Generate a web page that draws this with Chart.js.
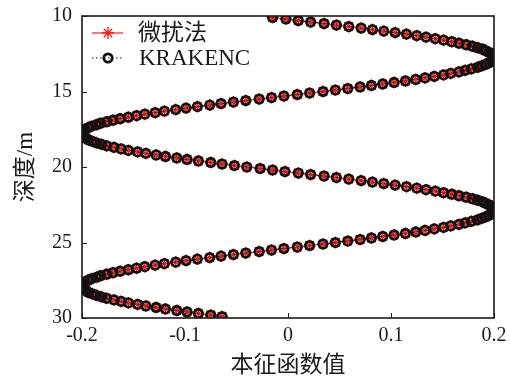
<!DOCTYPE html>
<html>
<head>
<meta charset="utf-8">
<script src="https://cdn.jsdelivr.net/npm/chart.js@4.4.0/dist/chart.umd.min.js"></script>
<style>
  html, body { margin: 0; padding: 0; background: #fffffd; }
  canvas { display: block; }
</style>
</head>
<body>
<canvas id="c" width="510" height="381"></canvas>
<script>
// Depth samples (m), 0.1 m apart
const depths = [
  10.1,10.2,10.3,10.4,10.5,10.6,10.7,10.8,10.9,11.0,
  11.1,11.2,11.3,11.4,11.5,11.6,11.7,11.8,11.9,12.0,
  12.1,12.2,12.3,12.4,12.5,12.6,12.7,12.8,12.9,13.0,
  13.1,13.2,13.3,13.4,13.5,13.6,13.7,13.8,13.9,14.0,
  14.1,14.2,14.3,14.4,14.5,14.6,14.7,14.8,14.9,15.0,
  15.1,15.2,15.3,15.4,15.5,15.6,15.7,15.8,15.9,16.0,
  16.1,16.2,16.3,16.4,16.5,16.6,16.7,16.8,16.9,17.0,
  17.1,17.2,17.3,17.4,17.5,17.6,17.7,17.8,17.9,18.0,
  18.1,18.2,18.3,18.4,18.5,18.6,18.7,18.8,18.9,19.0,
  19.1,19.2,19.3,19.4,19.5,19.6,19.7,19.8,19.9,20.0,
  20.1,20.2,20.3,20.4,20.5,20.6,20.7,20.8,20.9,21.0,
  21.1,21.2,21.3,21.4,21.5,21.6,21.7,21.8,21.9,22.0,
  22.1,22.2,22.3,22.4,22.5,22.6,22.7,22.8,22.9,23.0,
  23.1,23.2,23.3,23.4,23.5,23.6,23.7,23.8,23.9,24.0,
  24.1,24.2,24.3,24.4,24.5,24.6,24.7,24.8,24.9,25.0,
  25.1,25.2,25.3,25.4,25.5,25.6,25.7,25.8,25.9,26.0,
  26.1,26.2,26.3,26.4,26.5,26.6,26.7,26.8,26.9,27.0,
  27.1,27.2,27.3,27.4,27.5,27.6,27.7,27.8,27.9,28.0,
  28.1,28.2,28.3,28.4,28.5,28.6,28.7,28.8,28.9,29.0,
  29.1,29.2,29.3,29.4,29.5,29.6,29.7,29.8,29.9
];

// Eigenfunction values from the perturbation method
const perturbationValues = [
  -0.015,-0.002,0.010,0.022,0.035,0.047,0.059,0.071,0.082,0.093,
  0.104,0.115,0.125,0.134,0.143,0.151,0.159,0.166,0.173,0.179,
  0.184,0.189,0.192,0.195,0.198,0.199,0.200,0.200,0.199,0.198,
  0.195,0.192,0.188,0.184,0.178,0.172,0.166,0.158,0.151,0.142,
  0.133,0.124,0.114,0.103,0.092,0.081,0.070,0.058,0.046,0.034,
  0.021,0.009,-0.004,-0.016,-0.028,-0.041,-0.053,-0.065,-0.076,-0.088,
  -0.099,-0.109,-0.120,-0.129,-0.139,-0.147,-0.155,-0.163,-0.170,-0.176,
  -0.182,-0.186,-0.191,-0.194,-0.197,-0.199,-0.200,-0.200,-0.200,-0.198,
  -0.196,-0.194,-0.190,-0.186,-0.181,-0.176,-0.169,-0.162,-0.155,-0.146,
  -0.138,-0.128,-0.119,-0.108,-0.098,-0.087,-0.075,-0.064,-0.052,-0.040,
  -0.027,-0.015,-0.003,0.010,0.022,0.035,0.047,0.059,0.071,0.082,
  0.093,0.104,0.115,0.125,0.134,0.143,0.151,0.159,0.166,0.173,
  0.179,0.184,0.189,0.192,0.195,0.198,0.199,0.200,0.200,0.199,
  0.198,0.195,0.192,0.188,0.184,0.178,0.172,0.166,0.158,0.151,
  0.142,0.133,0.124,0.114,0.103,0.092,0.081,0.070,0.058,0.046,
  0.034,0.021,0.009,-0.004,-0.016,-0.028,-0.041,-0.053,-0.065,-0.076,
  -0.088,-0.099,-0.109,-0.120,-0.129,-0.139,-0.147,-0.155,-0.163,-0.170,
  -0.176,-0.182,-0.186,-0.191,-0.194,-0.197,-0.199,-0.200,-0.200,-0.200,
  -0.198,-0.196,-0.194,-0.190,-0.186,-0.181,-0.176,-0.169,-0.162,-0.155,
  -0.146,-0.138,-0.128,-0.119,-0.108,-0.098,-0.087,-0.075,-0.064
];

// Eigenfunction values from KRAKENC
const krakencValues = [
  -0.015,-0.002,0.010,0.022,0.035,0.047,0.059,0.071,0.082,0.093,
  0.104,0.115,0.125,0.134,0.143,0.151,0.159,0.166,0.173,0.179,
  0.184,0.189,0.192,0.195,0.198,0.199,0.200,0.200,0.199,0.198,
  0.195,0.192,0.188,0.184,0.178,0.172,0.166,0.158,0.151,0.142,
  0.133,0.124,0.114,0.103,0.092,0.081,0.070,0.058,0.046,0.034,
  0.021,0.009,-0.004,-0.016,-0.028,-0.041,-0.053,-0.065,-0.076,-0.088,
  -0.099,-0.109,-0.120,-0.129,-0.139,-0.147,-0.155,-0.163,-0.170,-0.176,
  -0.182,-0.186,-0.191,-0.194,-0.197,-0.199,-0.200,-0.200,-0.200,-0.198,
  -0.196,-0.194,-0.190,-0.186,-0.181,-0.176,-0.169,-0.162,-0.155,-0.146,
  -0.138,-0.128,-0.119,-0.108,-0.098,-0.087,-0.075,-0.064,-0.052,-0.040,
  -0.027,-0.015,-0.003,0.010,0.022,0.035,0.047,0.059,0.071,0.082,
  0.093,0.104,0.115,0.125,0.134,0.143,0.151,0.159,0.166,0.173,
  0.179,0.184,0.189,0.192,0.195,0.198,0.199,0.200,0.200,0.199,
  0.198,0.195,0.192,0.188,0.184,0.178,0.172,0.166,0.158,0.151,
  0.142,0.133,0.124,0.114,0.103,0.092,0.081,0.070,0.058,0.046,
  0.034,0.021,0.009,-0.004,-0.016,-0.028,-0.041,-0.053,-0.065,-0.076,
  -0.088,-0.099,-0.109,-0.120,-0.129,-0.139,-0.147,-0.155,-0.163,-0.170,
  -0.176,-0.182,-0.186,-0.191,-0.194,-0.197,-0.199,-0.200,-0.200,-0.200,
  -0.198,-0.196,-0.194,-0.190,-0.186,-0.181,-0.176,-0.169,-0.162,-0.155,
  -0.146,-0.138,-0.128,-0.119,-0.108,-0.098,-0.087,-0.075,-0.064
];

const seriesNames = ['微扰法', 'KRAKENC'];
const xTickValues = [-0.2, -0.1, 0, 0.1, 0.2];
const yTickValues = [10, 15, 20, 25, 30];
const xTitle = '本征函数值';
const yTitle = '深度/m';

const FONT = '"Liberation Serif", "Times New Roman", "Noto Sans CJK SC", serif';
const INK = '#1a1a1a';
const RED = '#f01c1c';

const toPoints = vals => vals.map((v, i) => ({ x: v, y: depths[i] }));

const pertStyle = { pointStyle: 'star', radius: 6, borderWidth: 1.3, color: RED };
const krakStyle = { pointStyle: 'circle', radius: 4.2, borderWidth: 2.8, color: '#111111' };

function marker(ctx, st, x, y) {
  ctx.save();
  ctx.strokeStyle = st.color;
  ctx.fillStyle = 'rgba(0,0,0,0)';
  ctx.lineWidth = st.borderWidth;
  Chart.helpers.drawPoint(ctx, { pointStyle: st.pointStyle, radius: st.radius, rotation: 0, borderWidth: st.borderWidth }, x, y);
  ctx.restore();
}

// Box frame, inward tick marks and the line+marker legend
const decorations = {
  id: 'decorations',
  afterDraw(chart) {
    const { ctx, chartArea: a, scales: { x, y } } = chart;
    ctx.save();
    ctx.strokeStyle = INK;
    ctx.lineWidth = 1;
    ctx.beginPath();
    x.ticks.forEach(t => {
      const p = Math.round(x.getPixelForValue(t.value)) + 0.5;
      ctx.moveTo(p, a.bottom); ctx.lineTo(p, a.bottom - 5);
    });
    y.ticks.forEach(t => {
      const p = Math.round(y.getPixelForValue(t.value)) + 0.5;
      ctx.moveTo(a.left, p); ctx.lineTo(a.left + 5, p);
    });
    ctx.stroke();
    ctx.lineWidth = 1.6;
    ctx.strokeRect(a.left, a.top, a.right - a.left, a.bottom - a.top);

    // legend
    const lx0 = a.left + 10, lx1 = a.left + 41, mx = a.left + 26;
    const rows = [a.top + 17, a.top + 42];
    ctx.lineWidth = 1.2;
    ctx.strokeStyle = RED;
    ctx.setLineDash([]);
    ctx.beginPath(); ctx.moveTo(lx0, rows[0]); ctx.lineTo(lx1, rows[0]); ctx.stroke();
    marker(ctx, pertStyle, mx, rows[0]);
    ctx.strokeStyle = '#111111';
    ctx.setLineDash([1.5, 2.5]);
    ctx.beginPath(); ctx.moveTo(lx0, rows[1]); ctx.lineTo(lx1, rows[1]); ctx.stroke();
    ctx.setLineDash([]);
    marker(ctx, krakStyle, mx, rows[1]);

    ctx.fillStyle = INK;
    ctx.font = '23px ' + FONT;
    ctx.textAlign = 'left';
    ctx.textBaseline = 'middle';
    ctx.fillText(seriesNames[0], a.left + 56, rows[0] + 1);
    ctx.fillText(seriesNames[1], a.left + 57, rows[1] + 1);
    ctx.restore();
  }
};

const bg = {
  id: 'bg',
  beforeDraw(chart) {
    const { ctx, width, height } = chart;
    ctx.save();
    ctx.fillStyle = '#fffffd';
    ctx.fillRect(0, 0, width, height);
    ctx.restore();
  }
};

new Chart(document.getElementById('c'), {
  type: 'scatter',
  data: {
    datasets: [
      {
        label: seriesNames[0],
        data: toPoints(perturbationValues),
        showLine: true,
        borderColor: RED,
        borderWidth: 1,
        pointStyle: pertStyle.pointStyle,
        pointRadius: pertStyle.radius,
        pointBorderWidth: pertStyle.borderWidth,
        pointBorderColor: RED,
        pointBackgroundColor: RED,
        clip: 0,
        order: 2
      },
      {
        label: seriesNames[1],
        data: toPoints(krakencValues),
        showLine: true,
        borderColor: '#111111',
        borderWidth: 1,
        borderDash: [1.5, 2.5],
        pointStyle: krakStyle.pointStyle,
        pointRadius: krakStyle.radius,
        pointBorderWidth: krakStyle.borderWidth,
        pointBorderColor: '#111111',
        pointBackgroundColor: 'rgba(0,0,0,0)',
        clip: 0,
        order: 1
      }
    ]
  },
  options: {
    responsive: false,
    animation: false,
    devicePixelRatio: 1,
    events: [],
    layout: { padding: { top: 16, right: 16, left: 0, bottom: 0 } },
    plugins: { legend: { display: false }, tooltip: { enabled: false } },
    scales: {
      x: {
        type: 'linear',
        min: -0.2, max: 0.2,
        afterBuildTicks: s => { s.ticks = xTickValues.map(v => ({ value: v })); },
        afterFit: s => { s.height = 63; s.paddingLeft = 0; s.paddingRight = 0; },
        grid: { display: false, drawTicks: false },
        border: { display: false },
        ticks: {
          padding: 6,
          color: INK,
          font: { family: FONT, size: 20 },
          callback: v => String(v)
        },
        title: {
          display: true, text: xTitle, color: INK,
          font: { family: FONT, size: 23, lineHeight: 1 },
          padding: { top: 0, bottom: 4 }
        }
      },
      y: {
        type: 'linear',
        reverse: true,
        min: 10, max: 30,
        afterBuildTicks: s => { s.ticks = yTickValues.map(v => ({ value: v })); },
        afterFit: s => { s.width = 82; s.paddingTop = 0; s.paddingBottom = 0; },
        grid: { display: false, drawTicks: false },
        border: { display: false },
        ticks: {
          padding: 10,
          color: INK,
          font: { family: FONT, size: 20 },
          callback: v => String(v)
        },
        title: {
          display: true, text: yTitle, color: INK,
          font: { family: FONT, size: 23, lineHeight: 1 },
          padding: { top: 14, bottom: 0 }
        }
      }
    }
  },
  plugins: [bg, decorations]
});
</script>
</body>
</html>
